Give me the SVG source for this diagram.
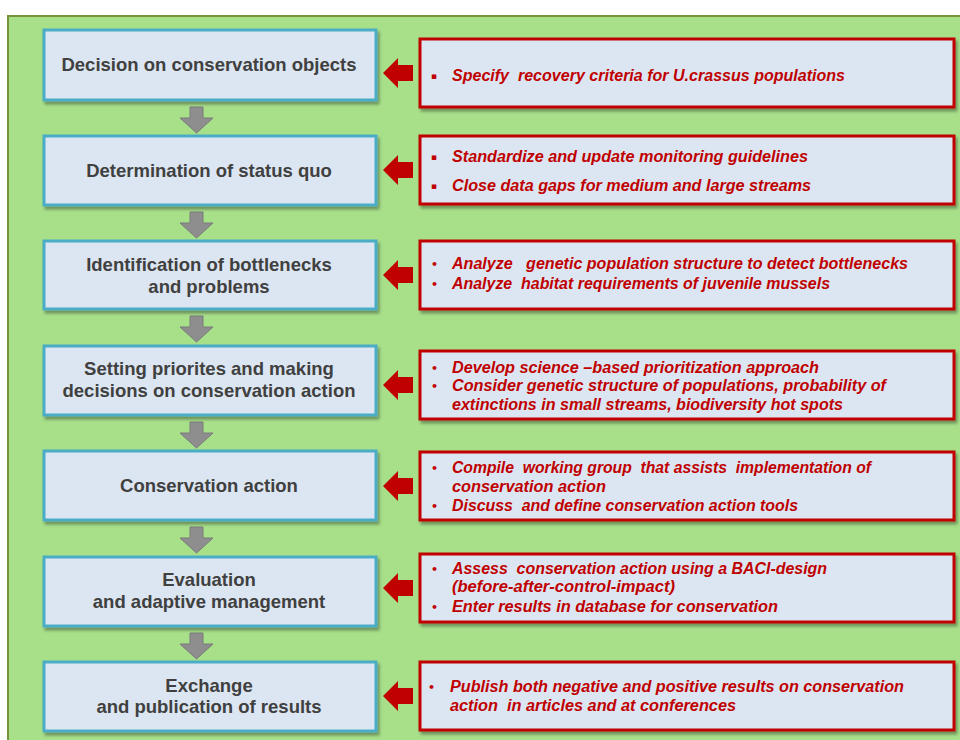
<svg xmlns="http://www.w3.org/2000/svg" width="960" height="740" viewBox="0 0 960 740">
<defs>
<filter id="sh" x="-5%" y="-10%" width="115%" height="130%">
<feDropShadow dx="2" dy="3" stdDeviation="1.6" flood-color="#000" flood-opacity="0.35"/>
</filter>
</defs>
<style>
.step{fill:#dce6f2;stroke:#4bacc6;stroke-width:3;filter:url(#sh)}
.note{fill:#dce6f2;stroke:#c00000;stroke-width:3;filter:url(#sh)}
.lt{font-family:"Liberation Sans",Arial,sans-serif;font-weight:bold;font-size:18.5px;fill:#404040;text-anchor:middle}
.rt{font-family:"Liberation Sans",Arial,sans-serif;font-weight:bold;font-style:italic;font-size:16px;fill:#c00000;white-space:pre}
.bl{font-family:"DejaVu Sans","Liberation Sans",sans-serif;font-weight:bold;font-size:11px;fill:#c00000}
.sq{font-family:"DejaVu Sans","Liberation Sans",sans-serif;font-weight:bold;font-size:9px;fill:#c00000}
.ga{fill:#8e8e8e;stroke:#7a7a7a;stroke-width:1}
.ra{fill:#c00000}
</style>
<rect width="960" height="740" fill="#ffffff"/>
<rect x="8" y="16" width="960" height="740" fill="#a8e08a" stroke="#77933c" stroke-width="2"/>

<g id="connectors">
<polygon class="ga" points="190,107 203,107 203,118 213,118 196.5,133 180,118 190,118"/>
<polygon class="ga" points="190,212 203,212 203,223 213,223 196.5,238 180,223 190,223"/>
<polygon class="ga" points="190,316 203,316 203,327 213,327 196.5,342 180,327 190,327"/>
<polygon class="ga" points="190,422 203,422 203,433 213,433 196.5,448 180,433 190,433"/>
<polygon class="ga" points="190,527 203,527 203,538 213,538 196.5,553 180,538 190,538"/>
<polygon class="ga" points="190,633 203,633 203,644 213,644 196.5,659 180,644 190,644"/>
<polygon class="ra" points="383,73 398,58 398,65 413,65 413,81 398,81 398,88"/>
<polygon class="ra" points="383,170 398,155 398,162 413,162 413,178 398,178 398,185"/>
<polygon class="ra" points="383,275 398,260 398,267 413,267 413,283 398,283 398,290"/>
<polygon class="ra" points="383,385 398,370 398,377 413,377 413,393 398,393 398,400"/>
<polygon class="ra" points="383,486 398,471 398,478 413,478 413,494 398,494 398,501"/>
<polygon class="ra" points="383,588 398,573 398,580 413,580 413,596 398,596 398,603"/>
<polygon class="ra" points="383,696 398,681 398,688 413,688 413,704 398,704 398,711"/>
</g>

<g id="step1">
<rect class="step" x="44" y="30" width="332" height="70"/>
<text class="lt" x="209" y="71">Decision on conservation objects</text>
</g>
<g id="step2">
<rect class="step" x="44" y="136" width="332" height="69"/>
<text class="lt" x="209" y="177">Determination of status quo</text>
</g>
<g id="step3">
<rect class="step" x="44" y="241" width="332" height="68"/>
<text class="lt" x="209" y="271">Identification of bottlenecks</text>
<text class="lt" x="209" y="293">and problems</text>
</g>
<g id="step4">
<rect class="step" x="44" y="346" width="332" height="69"/>
<text class="lt" x="209" y="375">Setting priorites and making</text>
<text class="lt" x="209" y="397">decisions on conservation action</text>
</g>
<g id="step5">
<rect class="step" x="44" y="451" width="332" height="69"/>
<text class="lt" x="209" y="492">Conservation action</text>
</g>
<g id="step6">
<rect class="step" x="44" y="557" width="332" height="69"/>
<text class="lt" x="209" y="586">Evaluation</text>
<text class="lt" x="209" y="608">and adaptive management</text>
</g>
<g id="step7">
<rect class="step" x="44" y="662" width="332" height="69"/>
<text class="lt" x="209" y="692">Exchange</text>
<text class="lt" x="209" y="713">and publication of results</text>
</g>

<g id="note1">
<rect class="note" x="420" y="39" width="534" height="68"/>
<text class="sq" x="431" y="79">▪</text>
<text class="rt" x="452" y="81" textLength="393" lengthAdjust="spacingAndGlyphs">Specify  recovery criteria for U.crassus populations</text>
</g>
<g id="note2">
<rect class="note" x="420" y="136" width="534" height="68"/>
<text class="sq" x="431" y="160">▪</text>
<text class="rt" x="452" y="162" textLength="356" lengthAdjust="spacingAndGlyphs">Standardize and update monitoring guidelines</text>
<text class="sq" x="431" y="189">▪</text>
<text class="rt" x="452" y="191" textLength="359" lengthAdjust="spacingAndGlyphs">Close data gaps for medium and large streams</text>
</g>
<g id="note3">
<rect class="note" x="420" y="241" width="534" height="68"/>
<text class="bl" x="431" y="268">•</text>
<text class="rt" x="452" y="269" textLength="456" lengthAdjust="spacingAndGlyphs">Analyze   genetic population structure to detect bottlenecks</text>
<text class="bl" x="431" y="288">•</text>
<text class="rt" x="452" y="289" textLength="378" lengthAdjust="spacingAndGlyphs">Analyze  habitat requirements of juvenile mussels</text>
</g>
<g id="note4">
<rect class="note" x="420" y="351" width="534" height="68"/>
<text class="bl" x="431" y="372">•</text>
<text class="rt" x="452" y="373" textLength="367" lengthAdjust="spacingAndGlyphs">Develop science –based prioritization approach</text>
<text class="bl" x="431" y="390">•</text>
<text class="rt" x="452" y="391" textLength="434" lengthAdjust="spacingAndGlyphs">Consider genetic structure of populations, probability of</text>
<text class="rt" x="452" y="410" textLength="391" lengthAdjust="spacingAndGlyphs">extinctions in small streams, biodiversity hot spots</text>
</g>
<g id="note5">
<rect class="note" x="420" y="452" width="534" height="68"/>
<text class="bl" x="431" y="472">•</text>
<text class="rt" x="452" y="473" textLength="419" lengthAdjust="spacingAndGlyphs">Compile  working group  that assists  implementation of</text>
<text class="rt" x="452" y="492" textLength="154" lengthAdjust="spacingAndGlyphs">conservation action</text>
<text class="bl" x="431" y="510">•</text>
<text class="rt" x="452" y="511" textLength="346" lengthAdjust="spacingAndGlyphs">Discuss  and define conservation action tools</text>
</g>
<g id="note6">
<rect class="note" x="420" y="554" width="534" height="68"/>
<text class="bl" x="431" y="573">•</text>
<text class="rt" x="452" y="574" textLength="375" lengthAdjust="spacingAndGlyphs">Assess  conservation action using a BACI-design</text>
<text class="rt" x="452" y="592" textLength="223" lengthAdjust="spacingAndGlyphs">(before-after-control-impact)</text>
<text class="bl" x="431" y="611">•</text>
<text class="rt" x="452" y="612" textLength="326" lengthAdjust="spacingAndGlyphs">Enter results in database for conservation</text>
</g>
<g id="note7">
<rect class="note" x="420" y="662" width="534" height="68"/>
<text class="bl" x="428" y="691">•</text>
<text class="rt" x="450" y="692" textLength="454" lengthAdjust="spacingAndGlyphs">Publish both negative and positive results on conservation</text>
<text class="rt" x="450" y="711" textLength="286" lengthAdjust="spacingAndGlyphs">action  in articles and at conferences</text>
</g>
</svg>
